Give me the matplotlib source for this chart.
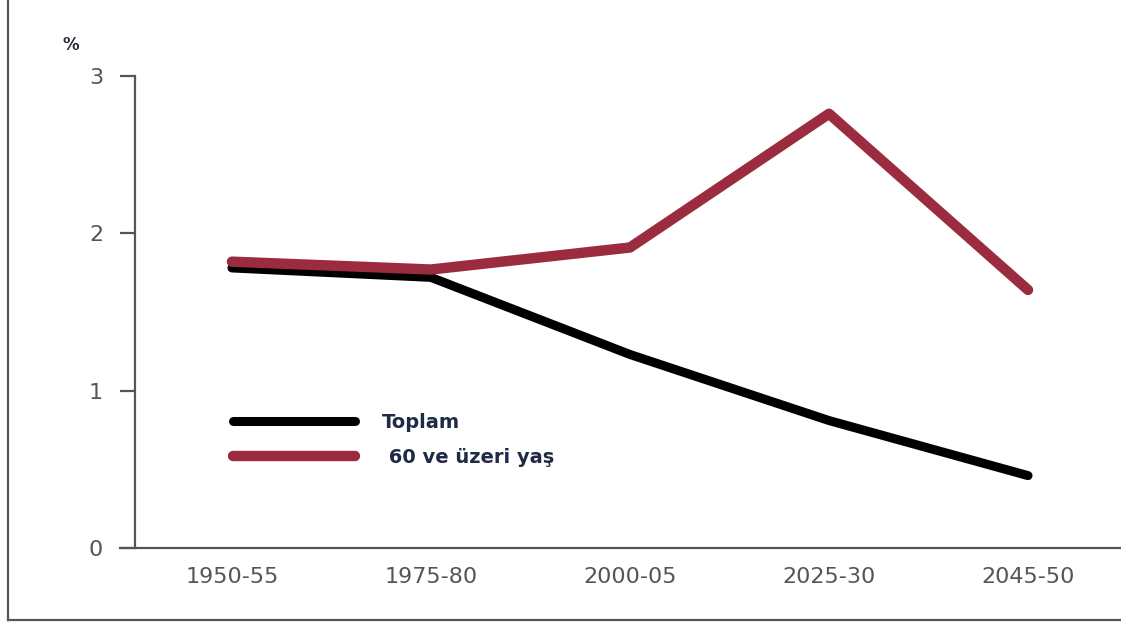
import matplotlib.pyplot as plt
from matplotlib.lines import Line2D

periods = ['1950-55', '1975-80', '2000-05', '2025-30', '2045-50']
toplam = [1.78, 1.72, 1.23, 0.81, 0.46]
yas60 = [1.82, 1.77, 1.91, 2.76, 1.64]
yticks = [0, 1, 2, 3]

fig = plt.figure(figsize=(11.21, 6.23), dpi=100)
ax = fig.add_axes([135/1121, 1 - 548/623, 986/1121, 472/623])

x = list(range(len(periods)))
ax.plot(x, toplam, color='black', lw=6.5, solid_capstyle='round', label='Toplam')
ax.plot(x, yas60, color='#9b2c40', lw=7.5, solid_capstyle='round', label=' 60 ve üzeri yaş')

ax.set_xlim(-0.487, 4.467)
ax.set_ylim(0, 3)
ax.set_xticks(x)
ax.set_xticklabels(periods)
ax.set_yticks(yticks)

for s in ['top', 'right']:
    ax.spines[s].set_visible(False)
for s in ['left', 'bottom']:
    ax.spines[s].set_color('#555555')
    ax.spines[s].set_linewidth(1.6)
ax.spines['bottom'].set_bounds(-0.56, 4.467)
ax.tick_params(axis='x', length=0, pad=14, labelsize=16, labelcolor='#555555')
ax.tick_params(axis='y', length=11, width=1.6, color='#555555', pad=12,
               labelsize=16, labelcolor='#555555')

ax.text(-0.81, 3.2, '%', fontsize=12, fontweight='bold', color='#2a2a3a',
        ha='center', va='center', clip_on=False)

leg = ax.legend(loc='upper left', bbox_to_anchor=(80/986, 153/472), frameon=False,
                handlelength=6.3, handletextpad=1.4, labelspacing=0.85,
                prop={'size': 14, 'weight': 'bold'})
for t in leg.get_texts():
    t.set_color('#1f2a44')

# outer frame
fig.add_artist(Line2D([8/1121, 8/1121], [1, 3/623], color='#555555', lw=1.6))
fig.add_artist(Line2D([8/1121, 1], [3/623, 3/623], color='#555555', lw=1.6))

fig.savefig('out.png', dpi=100)
